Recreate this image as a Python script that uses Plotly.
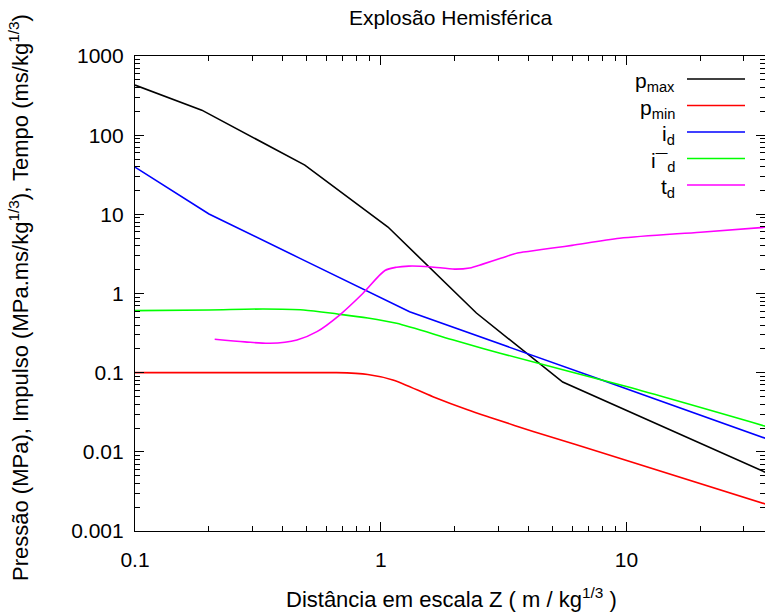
import plotly.graph_objects as go
import numpy as np

# ---------------- data ----------------
z_pmax = [0.1, 0.187, 0.491, 1.07, 2.45, 5.5, 40]
pmax = [429, 207, 41.9, 6.91, 0.567, 0.076, 0.0049]

z_pmin = [0.1, 0.5, 0.66, 0.885, 1.12, 1.63, 2.24, 2.79, 4.17, 7.83, 40]
pmin = [0.1, 0.1, 0.1, 0.095, 0.081, 0.0498, 0.0343, 0.0272, 0.0181, 0.0099, 0.00202]

z_id = [0.1, 0.2, 0.467, 1.31, 7.83, 40]
i_d = [39.5, 10.1, 2.8, 0.589, 0.0817, 0.0135]

z_idn = [0.1, 0.2, 0.333, 0.485, 0.667, 0.885, 1.16, 1.96, 3.06, 10, 40]
i_dn = [0.607, 0.62, 0.637, 0.62, 0.551, 0.49, 0.42, 0.26, 0.176, 0.0667, 0.0195]

z_td = [0.211, 0.28, 0.354, 0.456, 0.55, 0.68, 0.845, 1.04, 1.16, 1.3, 1.58, 2.0,
        2.3, 2.6, 3.1, 3.6, 4.04, 5.0, 6.0, 9.38, 20, 40]
t_d = [0.264, 0.245, 0.235, 0.259, 0.33, 0.535, 1.0, 1.95, 2.15, 2.22, 2.18, 2.03,
       2.1, 2.35, 2.8, 3.25, 3.42, 3.75, 4.05, 4.98, 5.95, 7.0]

series_names = ["p<sub>max</sub>", "p<sub>min</sub>", "i<sub>d</sub>",
                "i¯<sub>d</sub>", "t<sub>d</sub>"]
series_colors = ["#000000", "#ff0000", "#0000ff", "#00ff00", "#ff00ff"]

x_tickvals = [0.1, 1, 10]
x_ticktext = ["0.1", "1", "10"]
y_tickvals = [0.001, 0.01, 0.1, 1, 10, 100, 1000]
y_ticktext = ["0.001", "0.01", "0.1", "1", "10", "100", "1000"]

title_text = "Explosão Hemisférica"
x_title = "Distância em escala Z ( m / kg<sup>1/3</sup> )"
y_title = "Pressão (MPa), Impulso (MPa.ms/kg<sup>1/3</sup>), Tempo (ms/kg<sup>1/3</sup>)"

# ---------------- figure ----------------
FONT = "Arial, Liberation Sans, sans-serif"
W, H = 765, 615
L, R, T, B = 135, 0, 56, 84
pw, ph = W - L - R, H - T - B

def px2paper_x(px):
    return (px - L) / pw

def px2paper_y(py):
    return (H - B - py) / ph

fig = go.Figure()
data = [(z_pmax, pmax, "linear"), (z_pmin, pmin, "spline"), (z_id, i_d, "linear"),
        (z_idn, i_dn, "spline"), (z_td, t_d, "spline")]
for (xs, ys, shape), name, col in zip(data, series_names, series_colors):
    line = dict(color=col, width=1.6, shape=shape)
    if shape == "spline":
        line["smoothing"] = 0.8
    fig.add_trace(go.Scatter(x=xs, y=ys, mode="lines", name=name, line=line,
                             showlegend=False))

axis_common = dict(
    type="log", showgrid=False, zeroline=False, showline=True, linecolor="#000000",
    linewidth=1.2, mirror="ticks", ticks="inside", ticklen=9, tickwidth=1.2,
    tickcolor="#000000", tickfont=dict(family=FONT, size=21, color="#000000"),
    minor=dict(ticks="inside", ticklen=5, tickwidth=1, tickcolor="#000000",
               dtick="D1", showgrid=False),
)

fig.update_xaxes(range=[-1, np.log10(36.6)], tickvals=x_tickvals, ticktext=x_ticktext,
                 ticklabelstandoff=10, **axis_common)
fig.update_yaxes(range=[-3, 3], tickvals=y_tickvals, ticktext=y_ticktext,
                 ticklabelstandoff=6, **axis_common)

annotations = [
    dict(text=title_text, xref="paper", yref="paper", x=0.5, y=px2paper_y(17),
         showarrow=False, xanchor="center", yanchor="middle",
         font=dict(family=FONT, size=21, color="#000000")),
    dict(text=x_title, xref="paper", yref="paper", x=px2paper_x(451), y=px2paper_y(598),
         showarrow=False, xanchor="center", yanchor="middle",
         font=dict(family=FONT, size=22, color="#000000")),
    dict(text=y_title, xref="paper", yref="paper", x=px2paper_x(19), y=px2paper_y(298),
         showarrow=False, xanchor="center", yanchor="middle", textangle=-90,
         font=dict(family=FONT, size=22, color="#000000")),
]

shapes = []
legend_rows = [79, 105.5, 132, 158.5, 185]
for name, col, ry in zip(series_names, series_colors, legend_rows):
    annotations.append(dict(text=name, xref="paper", yref="paper",
                            x=px2paper_x(677), y=px2paper_y(ry + 3),
                            showarrow=False, xanchor="right", yanchor="middle",
                            font=dict(family=FONT, size=21, color="#000000")))
    shapes.append(dict(type="line", xref="paper", yref="paper",
                       x0=px2paper_x(687), x1=px2paper_x(745),
                       y0=px2paper_y(ry), y1=px2paper_y(ry),
                       line=dict(color=col, width=1.6)))

fig.update_layout(
    width=W, height=H, margin=dict(l=L, r=R, t=T, b=B, pad=0),
    paper_bgcolor="#ffffff", plot_bgcolor="#ffffff",
    annotations=annotations, shapes=shapes, showlegend=False,
    font=dict(family=FONT, size=21, color="#000000"),
)

fig.write_html("out.html")
